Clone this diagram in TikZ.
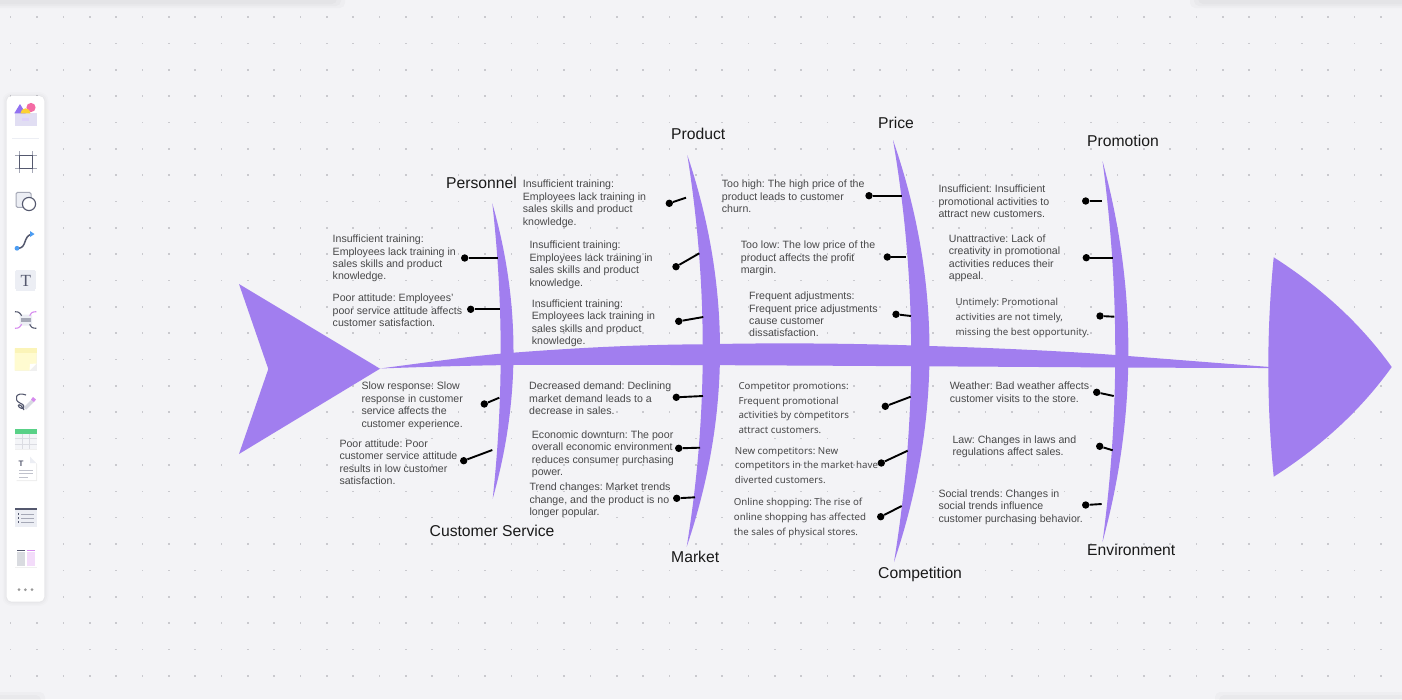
\documentclass[tikz,border=0pt]{standalone}
\usepackage{fontspec}
\setmainfont{Liberation Sans}
\newfontfamily\notofont{Noto Sans}
\newfontfamily\iconfont{Liberation Serif}
\frenchspacing
\definecolor{canvas}{HTML}{F3F3F6}
\definecolor{griddot}{HTML}{C9C9CE}
\definecolor{fish}{HTML}{A17EEF}
\definecolor{bodytext}{HTML}{484849}
\definecolor{inkdark}{HTML}{54586E}
\definecolor{inkgrey}{HTML}{A5A8B6}
\definecolor{inklite}{HTML}{ECEEF4}
\definecolor{inkpink}{HTML}{D68AEE}
\definecolor{inkblue}{HTML}{4D9DF2}
\definecolor{sticky}{HTML}{FFFBD0}
\definecolor{stickytop}{HTML}{FBF4B8}
\tikzset{
         fishpart/.style={fill=fish},
         stub/.style={draw=black,line width=1.9pt},
         pindot/.style={circle,fill=black,inner sep=0pt,minimum size=7.4pt},
         heading/.style={anchor=west,inner sep=0pt,text=black!90,font=\fontsize{15.7}{18}\selectfont},
         note/.style={anchor=north west,inner sep=0pt,yshift=4pt,align=left,text=bodytext,
                      font=\fontsize{10.6}{12.45}\selectfont,execute at begin node=\rule{0pt}{8pt}},
         altnote/.style={note,font=\notofont\fontsize{9.7}{14.8}\selectfont},
         softshadow/.style={black,opacity=.018,rounded corners=5pt}
        }
\begin{document}
\begin{tikzpicture}[x=1pt,y=-1pt]
\useasboundingbox(0,0)rectangle(1402,699);
\fill[canvas](0,0)rectangle(1402,699);
%window shadows
\fill[softshadow](-10,-10)rectangle(345,8);
\fill[softshadow](-10,-10)rectangle(341,6);
\fill[softshadow](-10,-10)rectangle(337,4);
\fill[softshadow](1190,-10)rectangle(1412,8);
\fill[softshadow](1194,-10)rectangle(1412,6);
\fill[softshadow](1198,-10)rectangle(1412,4);
\fill[softshadow](-10,692)rectangle(45,709);
\fill[softshadow](-10,695)rectangle(41,709);
\fill[softshadow](1215,692)rectangle(1412,709);
\fill[softshadow](1219,695)rectangle(1412,709);
%dot grid
\foreach \i in {0,...,52}
  \foreach \j in {0,...,25}
    \fill[griddot]({10.67+26.35*\i-.8},{17+26.35*\j-.8})rectangle++(1.6,1.6);
%tail, spine, head
\fill[fishpart](239,284)--(380,368.7)--(239,454)--(268.3,369)--cycle;
\fill[fishpart](380,368.5)..controls(445,360)and(480,355)..(513,352.7)
  ..controls(600,346)and(660,344.5)..(703,344.3)
  ..controls(780,342.5)and(860,343.5)..(929,346)
  ..controls(1000,348)and(1080,352)..(1128,356)
  ..controls(1180,360)and(1230,364)..(1270,367)--(1270,368)
  ..controls(1100,368)and(700,364)..(513,365)
  ..controls(470,365.5)and(420,367)..cycle;
\fill[fishpart](1273.7,257.3)..controls(1322.4,288.4)and(1361.7,325)..(1391.7,367)
  ..controls(1361.7,409)and(1322.4,445.6)..(1273.7,476.7)
  ..controls(1266.5,403.6)and(1266.5,330.4)..cycle;
%ribs
\fill[fishpart](492.3,203.3)..controls(520.5,302)and(520.5,400)..(492.7,498.7)
  ..controls(503.4,400)and(503.4,302)..cycle; %personnel
\fill[fishpart](687.3,155)..controls(731,285)and(731,416)..(686.7,546.7)
  ..controls(708,416)and(708,285)..cycle; %product
\fill[fishpart](893,140)..controls(941.5,280)and(941.5,421)..(894,562)
  ..controls(917,421)and(917,280)..cycle; %price
\fill[fishpart](1102.5,161)..controls(1137,288)and(1137,415)..(1102.5,542)
  ..controls(1119.5,415)and(1119.5,288)..cycle; %promotion
%headings
\node[heading](personnel)at(446,183){Personnel};
\node[heading](product)at(671,134){Product};
\node[heading](price)at(878,123){Price};
\node[heading](promotion)at(1087,141){Promotion};
\node[heading](service)at(429.5,531){Customer Service};
\node[heading](market)at(671,557){Market};
\node[heading](competition)at(878,574){Competition};
\node[heading](environment)at(1087,550){Environment};
%upper notes
\node[note](n1)at(332.5,238.7){Insufficient training:\\Employees lack training in\\sales skills and product\\knowledge.};
\node[note](n2)at(332.5,298){Poor attitude: Employees'\\poor service attitude affects\\customer satisfaction.};
\node[note](n3)at(522.7,184){Insufficient training:\\Employees lack training in\\sales skills and product\\knowledge.};
\node[note](n4)at(529.3,245){Insufficient training:\\Employees lack training in\\sales skills and product\\knowledge.};
\node[note](n5)at(531.7,303.3){Insufficient training:\\Employees lack training in\\sales skills and product\\knowledge.};
\node[note](n6)at(721.7,184){Too high: The high price of the\\product leads to customer\\churn.};
\node[note](n7)at(740.7,244.7){Too low: The low price of the\\product affects the profit\\margin.};
\node[note](n8)at(749,295.7){Frequent adjustments:\\Frequent price adjustments\\cause customer\\dissatisfaction.};
\node[note](n9)at(938.3,189){Insufficient: Insufficient\\promotional activities to\\attract new customers.};
\node[note](n10)at(948.7,238.3){Unattractive: Lack of\\creativity in promotional\\activities reduces their\\appeal.};
\node[altnote](n11)at(955.3,302){Untimely: Promotional\\activities are not timely,\\missing the best opportunity.};
%lower notes
\node[note](n12)at(361.3,386){Slow response: Slow\\response in customer\\service affects the\\customer experience.};
\node[note](n13)at(339.3,443.3){Poor attitude: Poor\\customer service attitude\\results in low customer\\satisfaction.};
\node[note](n14)at(529,386){Decreased demand: Declining\\market demand leads to a\\decrease in sales.};
\node[note](n15)at(531.7,434.3){Economic downturn: The poor\\overall economic environment\\reduces consumer purchasing\\power.};
\node[note](n16)at(529.3,486.7){Trend changes: Market trends\\change, and the product is no\\longer popular.};
\node[altnote](n17)at(738.3,386){Competitor promotions:\\Frequent promotional\\activities by competitors\\attract customers.};
\node[altnote](n18)at(734.7,450.7){New competitors: New\\competitors in the market have\\diverted customers.};
\node[altnote](n19)at(733.7,502.3){Online shopping: The rise of\\online shopping has affected\\the sales of physical stores.};
\node[note](n20)at(949.7,386){Weather: Bad weather affects\\customer visits to the store.};
\node[note](n21)at(952.3,439.3){Law: Changes in laws and\\regulations affect sales.};
\node[note](n22)at(938.3,493.3){Social trends: Changes in\\social trends influence\\customer purchasing behavior.};
%pins, upper half
\node[pindot](p1)at(464.7,258){};\coordinate(r1)at(498.3,258);\draw[stub](p1)--(r1);
\node[pindot](p2)at(470.7,309.3){};\coordinate(r2)at(500,309.3);\draw[stub](p2)--(r2);
\node[pindot](p3)at(669.3,203.3){};\coordinate(r3)at(686,197.7);\draw[stub](p3)--(r3);
\node[pindot](p4)at(676,266.7){};\coordinate(r4)at(699.3,253.3);\draw[stub](p4)--(r4);
\node[pindot](p5)at(678.7,321.3){};\coordinate(r5)at(703.3,317);\draw[stub](p5)--(r5);
\node[pindot](p6)at(869,195.7){};\coordinate(r6)at(902.3,195.7);\draw[stub](p6)--(r6);
\node[pindot](p7)at(887.3,257){};\coordinate(r7)at(905.7,257);\draw[stub](p7)--(r7);
\node[pindot](p8)at(896,314.3){};\coordinate(r8)at(911,316);\draw[stub](p8)--(r8);
\node[pindot](p9)at(1085.7,201){};\coordinate(r9)at(1101.7,201);\draw[stub](p9)--(r9);
\node[pindot](p10)at(1086.3,257.7){};\coordinate(r10)at(1112.7,257.7);\draw[stub](p10)--(r10);
\node[pindot](p11)at(1100,316){};\coordinate(r11)at(1114.3,316.7);\draw[stub](p11)--(r11);
%pins, lower half
\node[pindot](p12)at(484.3,404){};\coordinate(r12)at(499.3,397.7);\draw[stub](p12)--(r12);
\node[pindot](p13)at(463.7,460.7){};\coordinate(r13)at(492.3,450);\draw[stub](p13)--(r13);
\node[pindot](p14)at(676.3,397.3){};\coordinate(r14)at(703,396);\draw[stub](p14)--(r14);
\node[pindot](p15)at(678.7,448.3){};\coordinate(r15)at(700,447.7);\draw[stub](p15)--(r15);
\node[pindot](p16)at(676.7,498.3){};\coordinate(r16)at(695,497.3);\draw[stub](p16)--(r16);
\node[pindot](p17)at(885.3,406.3){};\coordinate(r17)at(910.7,396.7);\draw[stub](p17)--(r17);
\node[pindot](p18)at(881.3,463){};\coordinate(r18)at(907.7,450.7);\draw[stub](p18)--(r18);
\node[pindot](p19)at(880.7,516.7){};\coordinate(r19)at(901.7,506);\draw[stub](p19)--(r19);
\node[pindot](p20)at(1096.7,392.3){};\coordinate(r20)at(1113.7,396);\draw[stub](p20)--(r20);
\node[pindot](p21)at(1099.7,446.3){};\coordinate(r21)at(1112.7,450.3);\draw[stub](p21)--(r21);
\node[pindot](p22)at(1085.7,505){};\coordinate(r22)at(1101.7,504);\draw[stub](p22)--(r22);
%toolbar
\fill[black,opacity=.012,rounded corners=9pt](2.5,92)rectangle(48.5,606);
\fill[black,opacity=.015,rounded corners=8pt](4,93.5)rectangle(47,604.5);
\fill[black,opacity=.02,rounded corners=7pt](5.5,95)rectangle(45.5,603);
\fill[white,rounded corners=5pt](6.7,96)rectangle(44.3,601.7);
\draw[inklite,line width=.8pt](12.3,138.3)--(38.7,138.3);
%template icon
\fill[fish!14!inklite](14.7,113.3)rectangle(36.7,126);
\fill[fish!90!blue](20,104)--(14.3,113.3)--(25.7,113.3)--cycle;
\fill[magenta!45!pink](31,107.5)circle(4.6);
\fill[yellow!60!orange!80](20.5,113.3)arc(180:360:5)--cycle;
\fill[fish!35](21.8,117.5)rectangle(28.8,120.5);
%frame icon
\draw[inkgrey,line width=.8pt](19.3,151)--(19.3,172.7)(32.3,151)--(32.3,172.7)(15,155.3)--(36.7,155.3)(15,168.3)--(36.7,168.3);
\draw[inkdark,line width=1.3pt](19.3,155.3)rectangle(32.3,168.3);
%shape icon
\draw[inkgrey,fill=inklite,line width=1pt,rounded corners=1.5pt](16,192.3)rectangle(31,207.3);
\draw[inkdark,fill=white,line width=1.1pt](29,204)circle(6.6);
%connector icon
\draw[inkdark,line width=1.5pt](17,248.3)..controls(28,249)and(22,235)..(33,234);
\fill[inkblue](17,248.3)circle(2.4);
\fill[inkblue](34.5,234)--(30,231)--(30,237)--cycle;
%text icon
\fill[inklite](15,270)rectangle(36,290.7);
\node[inner sep=0pt,text=inkdark,font=\iconfont\fontsize{17}{17}\selectfont](txtglyph)at(25.7,280.5){T};
\fill[white](13.7,268.7)rectangle++(2.6,2.6);\fill[white](34.7,268.7)rectangle++(2.6,2.6);
\fill[white](13.7,289.4)rectangle++(2.6,2.6);\fill[white](34.7,289.4)rectangle++(2.6,2.6);
%map icon
\fill[inklite,rounded corners=1pt](19.5,314.5)rectangle(32,325.5);
\fill[inkgrey](20.8,317.7)rectangle(30.8,322.3);
\draw[inkdark,line width=1.1pt](15,311.7)..controls(19,312)..(21.7,315.7);
\draw[inkdark,line width=1.1pt](29.7,324.3)..controls(32,328)..(36.3,328.3);
\draw[inkpink,line width=1.1pt](29.7,315.7)..controls(32,312)..(36.3,311.7);
\draw[inkpink,line width=1.1pt](15,328.3)..controls(19,328)..(21.7,324.3);
%sticky icon
\fill[black,opacity=.06](15.2,349)rectangle(37.2,371.4);
\fill[sticky](14.7,348.3)--(36.7,348.3)--(36.7,363.5)--(29.5,370.7)--(14.7,370.7)--cycle;
\fill[stickytop](14.7,348.3)rectangle(36.7,352.5);
\fill[white](36.7,363.5)--(30,364)--(29.5,370.7)--cycle;
%pen icon
\draw[inkdark,line width=1.1pt](26,395)..controls(16,391)and(13,400)..(20,403)..controls(27,406)and(24,411)..(19,407)..controls(17,405)and(20,402)..(24,410);
\draw[inklite!70!inkgrey,line width=3.4pt](25,408.5)--(33,400.5);
\fill[inkpink](33,397)--(36,399.5)--(34,402)--(31,399.5)--cycle;
%table icon
\fill[black,opacity=.06](15.2,430)rectangle(37.2,450);
\fill[inklite!60!white](14.7,429.3)rectangle(36.7,449.3);
\fill[green!45!teal!65](14.7,429.3)rectangle(36.7,433.5);
\draw[inkgrey!40,line width=.6pt](22,433.5)--(22,449.3)(29.4,433.5)--(29.4,449.3)(14.7,438.6)--(36.7,438.6)(14.7,444)--(36.7,444);
%doc icon
\fill[black,opacity=.07](16.7,457.7)--(31,457.7)--(37,464)--(37,481)--(16.7,481)--cycle;
\fill[white](15.7,456.7)--(30,456.7)--(36,463)--(36,480)--(15.7,480)--cycle;
\fill[inklite](30,456.7)--(36,463)--(30,463)--cycle;
\node[inner sep=0pt,text=inkdark,font=\bfseries\fontsize{8}{8}\selectfont](docglyph)at(21,463.5){T};
\draw[inkgrey!70,line width=.8pt](19,470)--(33,470)(19,473.5)--(33,473.5)(19,477)--(28,477);
%list icon
\fill[black,opacity=.06](15.2,509)rectangle(37.2,527.4);
\fill[inklite](14.7,508.3)rectangle(36.7,526.7);
\fill[inkdark](14.7,508.3)rectangle(36.7,509.6);
\draw[inkgrey,line width=.8pt](21,514)--(34,514)(21,518)--(34,518)(21,522)--(34,522);
\fill[inkdark](17.5,513.3)rectangle++(1.4,1.4);\fill[inkdark](17.5,517.3)rectangle++(1.4,1.4);\fill[inkdark](17.5,521.3)rectangle++(1.4,1.4);
%board icon
\fill[black,opacity=.06](15.2,548)rectangle(37.2,568);
\fill[white](14.7,547.3)rectangle(36.7,567.3);
\fill[inklite!92!black](16.7,551.5)rectangle(24.7,565.5);
\fill[inkdark](16.7,549.5)rectangle(24.7,551);
\fill[inkpink!30!white](26.7,551.5)rectangle(34.7,565.5);
\fill[inkpink](26.7,549.5)rectangle(34.7,551);
%more dots
\fill[black!40](19,589.7)circle(1.5);
\fill[black!40](25.3,589.7)circle(1.5);
\fill[black!40](32,589.7)circle(1.5);
\end{tikzpicture}
\end{document}
